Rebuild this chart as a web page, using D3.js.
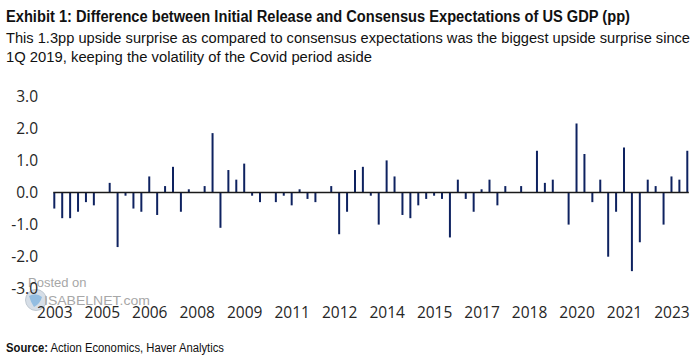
<!DOCTYPE html>
<html>
<head>
<meta charset="utf-8">
<script src="https://cdn.jsdelivr.net/npm/d3@7"></script>
<style>
  html, body { margin: 0; padding: 0; background: #fff; }
  svg { display: block; }
</style>
</head>
<body>
<div id="chart"></div>
<script>
// ---------- DATA ----------
const quarters = [
  "2003Q4",
  "2004Q1","2004Q2","2004Q3","2004Q4",
  "2005Q1","2005Q2","2005Q3","2005Q4",
  "2006Q1","2006Q2","2006Q3","2006Q4",
  "2007Q1","2007Q2","2007Q3","2007Q4",
  "2008Q1","2008Q2","2008Q3","2008Q4",
  "2009Q1","2009Q2","2009Q3","2009Q4",
  "2010Q1","2010Q2","2010Q3","2010Q4",
  "2011Q1","2011Q2","2011Q3","2011Q4",
  "2012Q1","2012Q2","2012Q3","2012Q4",
  "2013Q1","2013Q2","2013Q3","2013Q4",
  "2014Q1","2014Q2","2014Q3","2014Q4",
  "2015Q1","2015Q2","2015Q3","2015Q4",
  "2016Q1","2016Q2","2016Q3","2016Q4",
  "2017Q1","2017Q2","2017Q3","2017Q4",
  "2018Q1","2018Q2","2018Q3","2018Q4",
  "2019Q1","2019Q2","2019Q3","2019Q4",
  "2020Q1","2020Q2","2020Q3","2020Q4",
  "2021Q1","2021Q2","2021Q3","2021Q4",
  "2022Q1","2022Q2","2022Q3","2022Q4",
  "2023Q1","2023Q2","2023Q3","2023Q4"
];

const surprise = [
  -0.5,
  -0.8, -0.8, -0.6, -0.3,
  -0.4, 0.0, 0.3, -1.7,
  -0.1, -0.5, -0.6, 0.5,
  -0.7, 0.2, 0.8, -0.6,
  0.1, 0.0, 0.2, 1.85,
  -1.1, 0.7, 0.4, 0.9,
  -0.1, -0.3, 0.0, -0.3,
  -0.1, -0.4, 0.1, -0.2,
  -0.3, 0.0, 0.2, -1.3,
  -0.6, 0.7, 0.8, -0.1,
  -1.0, 1.0, 0.5, -0.7,
  -0.8, -0.4, -0.2, -0.1,
  -0.2, -1.4, 0.4, -0.2,
  -0.6, 0.1, 0.4, -0.4,
  0.2, 0.0, 0.2, 0.0,
  1.3, 0.3, 0.4, 0.0,
  -1.0, 2.15, 1.2, -0.3,
  0.4, -2.0, -0.6, 1.4,
  -2.45, -1.55, 0.4, 0.2,
  -1.0, 0.5, 0.4, 1.3
];

const xTickQuarters = ["2003Q4","2005Q2","2006Q4","2008Q2","2009Q4","2011Q2","2012Q4",
                       "2014Q2","2015Q4","2017Q2","2018Q4","2020Q2","2021Q4","2023Q2"];
const xTickLabels = ["2003","2005","2006","2008","2009","2011","2012",
                     "2014","2015","2017","2018","2020","2021","2023"];
const yTicks = [-3, -2, -1, 0, 1, 2, 3];

const titleText = "Exhibit 1: Difference between Initial Release and Consensus Expectations of US GDP (pp)";
const subtitleLines = [
  "This 1.3pp upside surprise as compared to consensus expectations was the biggest upside surprise since",
  "1Q 2019, keeping the volatility of the Covid period aside"
];
const sourceBold = "Source:";
const sourceText = " Action Economics, Haver Analytics";

// ---------- CHART ----------
const W = 700, H = 360;
const svg = d3.select("#chart").append("svg").attr("width", W).attr("height", H);

const narrow = "'Liberation Sans Narrow', 'Arial Narrow', 'Liberation Sans', sans-serif";
const axisFont = "'Open Sans', 'Noto Sans', sans-serif";

svg.append("text")
  .attr("x", 6).attr("y", 21.5)
  .attr("font-family", narrow).attr("font-weight", "bold").attr("font-size", 16)
  .attr("fill", "#111")
  .attr("textLength", 624).attr("lengthAdjust", "spacingAndGlyphs")
  .text(titleText);

const subLens = [684, 366];
subtitleLines.forEach((t, i) => {
  svg.append("text")
    .attr("x", 6).attr("y", 43 + i * 19)
    .attr("font-family", narrow).attr("font-size", 15.5)
    .attr("fill", "#111")
    .attr("textLength", subLens[i]).attr("lengthAdjust", "spacingAndGlyphs")
    .text(t);
});

const x = d3.scalePoint().domain(quarters).range([54.3, 687.3]);
const y = d3.scaleLinear().domain([-3, 3]).range([288.8, 96.2]);

// watermark
const wm = svg.append("g").attr("opacity", 0.75);
wm.append("circle").attr("cx", 36).attr("cy", 300).attr("r", 10.5)
  .attr("fill", "#c9d4df").attr("stroke", "#aab6c2").attr("stroke-width", 1);
wm.append("path").attr("d", "M29,296 Q36,292 42,297 Q40,304 34,307 Q31,303 29,296 Z")
  .attr("fill", "#6fa8d8");
wm.append("text").attr("x", 28).attr("y", 287).attr("font-family", "'Liberation Sans', Arial, sans-serif")
  .attr("font-size", 13).attr("fill", "#8a8a8a").text("Posted on");
wm.append("text").attr("x", 44).attr("y", 305).attr("font-family", "'Liberation Sans', Arial, sans-serif")
  .attr("font-size", 13).attr("fill", "#8a8a8a").attr("textLength", 106).attr("lengthAdjust", "spacingAndGlyphs")
  .text("ISABELNET.com");

// y axis
const yAxis = svg.append("g")
  .attr("transform", "translate(38,0)")
  .call(d3.axisLeft(y).tickValues(yTicks).tickSize(0).tickPadding(0).tickFormat(d => d.toFixed(1)));
yAxis.select(".domain").remove();
yAxis.selectAll("text")
  .attr("font-family", axisFont).attr("font-size", 15.5).attr("fill", "#262626");

// bars
svg.append("g").selectAll("line")
  .data(quarters.map((q, i) => ({ q, v: surprise[i] })).filter(d => d.v !== 0))
  .join("line")
  .attr("x1", d => x(d.q)).attr("x2", d => x(d.q))
  .attr("y1", y(0)).attr("y2", d => y(d.v))
  .attr("stroke", "#0e2260").attr("stroke-width", 2);

// zero line
svg.append("line")
  .attr("x1", x.range()[0] - 1).attr("x2", x.range()[1] + 1.5)
  .attr("y1", y(0)).attr("y2", y(0))
  .attr("stroke", "#1a1a1a").attr("stroke-width", 1.6);

// x axis
const xAxis = svg.append("g")
  .attr("transform", "translate(0,307)")
  .call(d3.axisBottom(x).tickValues(xTickQuarters).tickSize(0).tickPadding(0)
    .tickFormat(q => xTickLabels[xTickQuarters.indexOf(q)]));
xAxis.select(".domain").remove();
xAxis.selectAll("text")
  .attr("font-family", axisFont).attr("font-size", 15.5).attr("fill", "#262626")
  .attr("dy", "0.71em");

// source
const src = svg.append("text")
  .attr("x", 6).attr("y", 352)
  .attr("font-family", narrow).attr("font-size", 12.5).attr("fill", "#111")
  .attr("textLength", 218).attr("lengthAdjust", "spacingAndGlyphs");
src.append("tspan").attr("font-weight", "bold").text(sourceBold);
src.append("tspan").text(sourceText);
</script>
</body>
</html>
